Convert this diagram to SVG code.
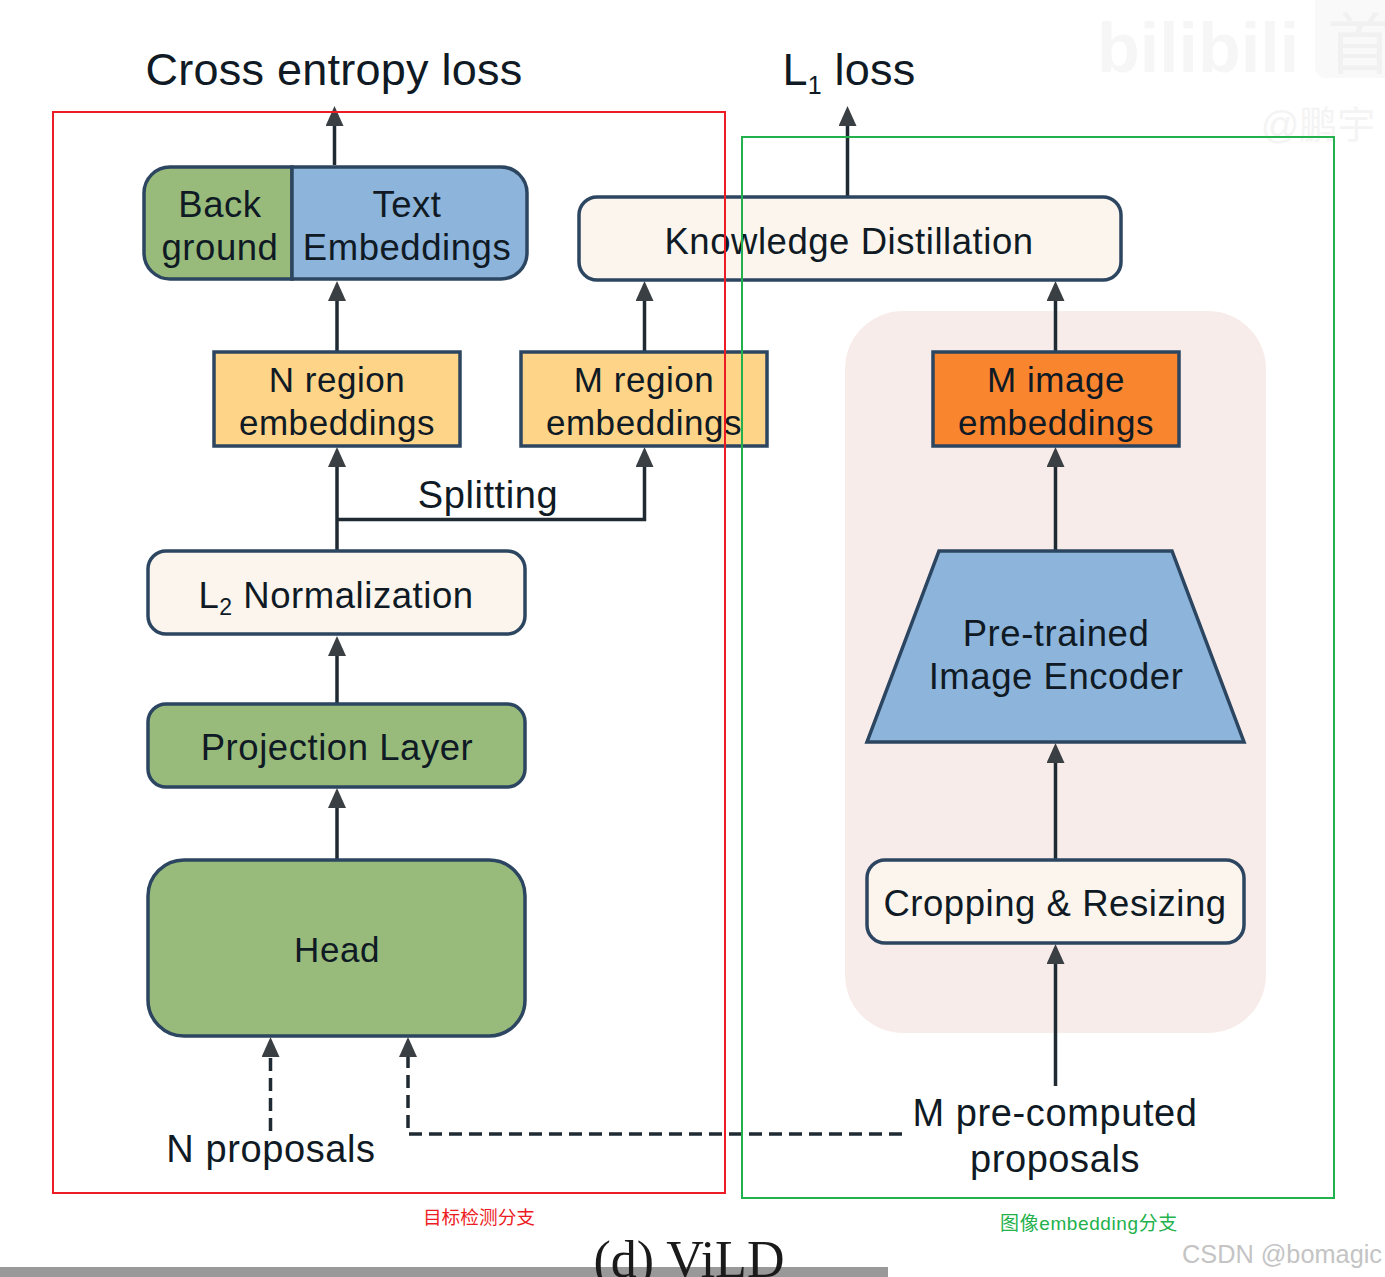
<svg xmlns="http://www.w3.org/2000/svg" width="1385" height="1277" viewBox="0 0 1385 1277">
<style>
text{font-family:"Liberation Sans","Noto Sans CJK SC",sans-serif;fill:#0f1a24;text-anchor:middle}
.t{font-size:38px;letter-spacing:.6px}
.h{font-size:45px;letter-spacing:.25px}
.b{font-size:36.5px;letter-spacing:.55px}
.r{font-size:35px;letter-spacing:.55px}
.box{stroke:#2c4560;stroke-width:3.5}
.cream{fill:#fbf5ee}
.green{fill:#98bb7b}
.blue{fill:#8db4da}
.yellow{fill:#fdd488}
.orange{fill:#f9852f}
.c{fill:none;stroke:#1f2a33;stroke-width:3.5}
.d{stroke-dasharray:13 7}
</style>
<defs>
<marker id="a" markerUnits="userSpaceOnUse" markerWidth="20" markerHeight="18" refX="1" refY="9" orient="auto" viewBox="0 0 20 18"><path d="M0 0L20 9L0 18Z" fill="#3a3f44"/></marker>
</defs>
<rect width="1385" height="1277" fill="#fff"/>
<rect x="845" y="311" width="421" height="722" rx="58" fill="#f8ecea"/>
<g id="watermarks">
<rect x="1315" y="-12" width="90" height="90" rx="10" fill="#f9f9f9"/>
<text x="1198" y="72" style="font-size:70px;font-weight:bold;fill:#f6f6f6">bilibili</text>
<text x="1360" y="68" style="font-size:66px;fill:#f1f1f1">首</text>
<text x="1318" y="138" style="font-size:38px;fill:#f4f4f4">@鹏宇</text>
<text x="1282" y="1263" style="font-size:25.300px;fill:#c4c4c4">CSDN @bomagic</text>
</g>
<g id="connectors">
<path class="c" d="M334.500 165V125" marker-end="url(#a)"/>
<path class="c" d="M847.500 196V125" marker-end="url(#a)"/>
<path class="c" d="M337 351V300" marker-end="url(#a)"/>
<path class="c" d="M644.500 351V300" marker-end="url(#a)"/>
<path class="c" d="M1055.500 351V300" marker-end="url(#a)"/>
<path class="c" d="M337 551V466" marker-end="url(#a)"/>
<path class="c" d="M337 519.500H644.500V466" marker-end="url(#a)"/>
<path class="c" d="M1055.500 550V466" marker-end="url(#a)"/>
<path class="c" d="M337 703V655" marker-end="url(#a)"/>
<path class="c" d="M337 859V807" marker-end="url(#a)"/>
<path class="c" d="M1055.500 859V762" marker-end="url(#a)"/>
<path class="c" d="M1055.500 1086V963" marker-end="url(#a)"/>
<path class="c d" d="M270.500 1131V1056" marker-end="url(#a)"/>
<path class="c d" d="M902 1134H408V1056" marker-end="url(#a)"/>
</g>
<g id="embeddings-classifier">
<path class="box green" d="M292 167H170a26 26 0 0 0-26 26v60a26 26 0 0 0 26 26H292Z"/>
<path class="box blue" d="M292 167H501a26 26 0 0 1 26 26v60a26 26 0 0 1-26 26H292Z"/>
<text class="b" x="220" y="217">Back</text>
<text class="b" x="220" y="260">ground</text>
<text class="b" x="407" y="217">Text</text>
<text class="b" x="407" y="260">Embeddings</text>
</g>
<g id="knowledge-distillation">
<rect class="box cream" x="579" y="197" width="542" height="83" rx="18"/>
<text class="b" x="849" y="254">Knowledge Distillation</text>
</g>
<g id="n-region">
<rect class="box yellow" x="214" y="352" width="246" height="94"/>
<text class="r" x="337" y="392">N region</text>
<text class="r" x="337" y="435">embeddings</text>
</g>
<g id="m-region">
<rect class="box yellow" x="521" y="352" width="246" height="94"/>
<text class="r" x="644" y="392">M region</text>
<text class="r" x="644" y="435">embeddings</text>
</g>
<g id="m-image">
<rect class="box orange" x="933" y="352" width="246" height="94"/>
<text class="r" x="1056" y="392">M image</text>
<text class="r" x="1056" y="435">embeddings</text>
</g>
<g id="l2-normalization">
<rect class="box cream" x="148" y="551" width="377" height="83" rx="18"/>
<text class="b" x="336" y="608">L<tspan font-size="23" dy="7">2</tspan><tspan dy="-7"> Normalization</tspan></text>
</g>
<g id="projection">
<rect class="box green" x="148" y="704" width="377" height="83" rx="18"/>
<text class="b" x="337" y="760">Projection Layer</text>
</g>
<g id="head">
<rect class="box green" x="148" y="860" width="377" height="176" rx="36"/>
<text class="r" x="337" y="962">Head</text>
</g>
<g id="encoder">
<path class="box blue" d="M939 551H1172L1244 742H867Z"/>
<text class="b" x="1056" y="646">Pre-trained</text>
<text class="b" x="1056" y="689">Image Encoder</text>
</g>
<g id="cropping">
<rect class="box cream" x="867" y="860" width="377" height="83" rx="18"/>
<text class="b" x="1055" y="916">Cropping &amp; Resizing</text>
</g>
<g id="labels">
<text class="h" x="334" y="85">Cross entropy loss</text>
<text class="h" x="849" y="85">L<tspan font-size="25" dy="9">1</tspan><tspan dy="-9"> loss</tspan></text>
<text class="t" x="488" y="508">Splitting</text>
<text class="t" x="271" y="1162">N proposals</text>
<text class="t" x="1055" y="1126">M pre-computed</text>
<text class="t" x="1055" y="1172">proposals</text>
</g>
<g id="caption">
<rect y="1267" width="888" height="10" fill="#999"/>
<text x="689" y="1277" style="font-family:'Liberation Serif',serif;font-size:52px;fill:#1a1a1a">(d) ViLD</text>
</g>
<g id="regions">
<rect x="53" y="112" width="672" height="1081" fill="none" stroke="#ed1c24" stroke-width="2"/>
<rect x="742" y="137" width="592" height="1061" fill="none" stroke="#22b14c" stroke-width="2"/>
<text x="479" y="1224" style="font-size:18.700px;fill:#ed1c24">目标检测分支</text>
<text x="1089" y="1230" style="font-size:19px;letter-spacing:.6px;fill:#22b14c">图像embedding分支</text>
</g>
</svg>
